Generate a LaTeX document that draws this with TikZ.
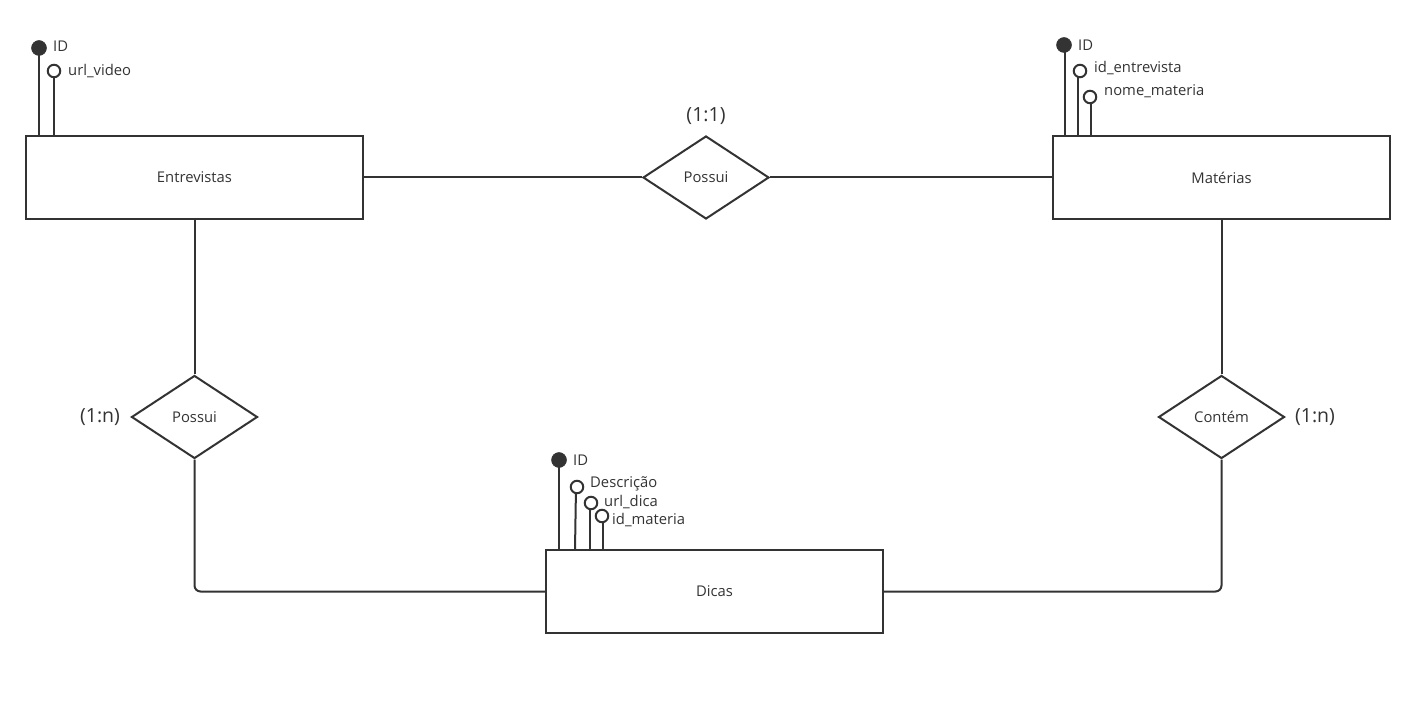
\documentclass[tikz,border=0pt]{standalone}
\usepackage{fontspec}
\setmainfont{Open Sans}
\usetikzlibrary{shapes.geometric}
\definecolor{ink}{HTML}{333333}
\begin{document}
\begin{tikzpicture}[x=1pt,y=-1pt,
  entity/.style={draw=ink, line width=2pt, minimum width=337pt, minimum height=83pt, inner sep=0pt, font=\fontsize{14.8}{17}\selectfont, text=ink},
  rel/.style={diamond, draw=ink, line width=2pt, minimum width=126pt, minimum height=83pt, aspect=1.52, inner sep=0pt, font=\fontsize{14.8}{17}\selectfont, text=ink},
  keyattr/.style={circle, fill=ink, draw=ink, line width=0.5pt, minimum size=15pt, inner sep=0pt},
  plainattr/.style={circle, draw=ink, fill=white, line width=2pt, minimum size=12.5pt, inner sep=0pt},
  lbl/.style={anchor=west, inner sep=0pt, font=\fontsize{14.8}{17}\selectfont, text=ink},
  card/.style={inner sep=0pt, font=\fontsize{19.5}{22}\selectfont, text=ink},
  conn/.style={draw=ink, line width=2pt}
]
\useasboundingbox (0,0) rectangle (1411,708);

% entities
\node[entity] (ent) at (194.5,177.5) {Entrevistas};
\node[entity] (mat) at (1221.5,177.5) {Matérias};
\node[entity] (dic) at (714.5,591.5) {Dicas};

% relationships
\node[rel] (r1) at (706,177.5) {Possui};
\node[rel] (r2) at (194.5,417) {Possui};
\node[rel] (r3) at (1221.5,417) {Contém};

% cardinalities
\node[card] (c1) at (706,116) {(1:1)};
\node[card] (c2) at (100,417) {(1:n)};
\node[card] (c3) at (1315,417) {(1:n)};

% connectors
\draw[conn] (ent.east) -- (r1.west);
\draw[conn] (r1.east) -- (mat.west);
\draw[conn] (ent.south) -- (r2.north);
\draw[conn, rounded corners=6pt] (r2.south) |- (dic.west);
\draw[conn] (mat.south) -- (r3.north);
\draw[conn, rounded corners=6pt] (r3.south) |- (dic.east);

% Entrevistas attributes
\draw[conn] (39,48) -- (39,136);
\draw[conn] (54,71) -- (54,136);
\node[keyattr] (e1) at (39,48) {};
\node[plainattr] (e2) at (54,71) {};
\node[lbl] (e1l) at (53,46) {ID};
\node[lbl] (e2l) at (68,71) {url\_video};

% Materias attributes
\draw[conn] (1065,45) -- (1065,136);
\draw[conn] (1078,71) -- (1078,136);
\draw[conn] (1091,97) -- (1091,136);
\node[keyattr] (m1) at (1064,45) {};
\node[plainattr] (m2) at (1080,71) {};
\node[plainattr] (m3) at (1090,97) {};
\node[lbl] (m1l) at (1078,45) {ID};
\node[lbl] (m2l) at (1094,68) {id\_entrevista};
\node[lbl] (m3l) at (1104,91) {nome\_materia};

% Dicas attributes
\draw[conn] (559,460) -- (559,550);
\draw[conn] (576,487) -- (575,550);
\draw[conn] (590,503) -- (590,550);
\draw[conn] (603,516) -- (603,550);
\node[keyattr] (d1) at (559,460) {};
\node[plainattr] (d2) at (577,487) {};
\node[plainattr] (d3) at (591,503) {};
\node[plainattr] (d4) at (602,516) {};
\node[lbl] (d1l) at (573,460) {ID};
\node[lbl] (d2l) at (590,484) {Descrição};
\node[lbl] (d3l) at (604,502) {url\_dica};
\node[lbl] (d4l) at (612,520) {id\_materia};
\end{tikzpicture}
\end{document}
